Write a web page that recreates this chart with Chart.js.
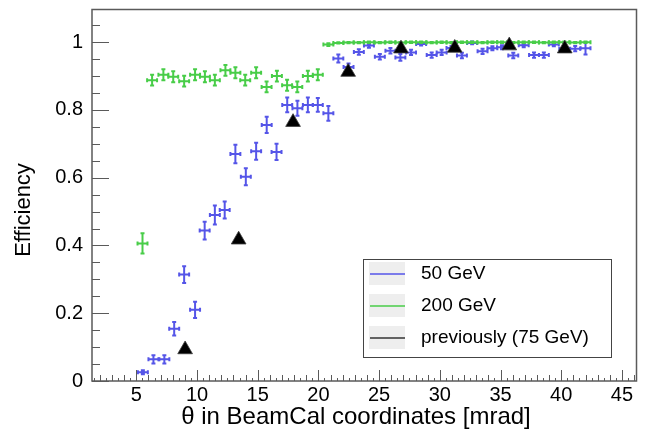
<!DOCTYPE html>
<html>
<head>
<meta charset="utf-8">
<script src="https://cdn.jsdelivr.net/npm/chart.js@4.4.1/dist/chart.umd.min.js"></script>
<style>
  html, body { margin: 0; padding: 0; background: #fff; }
  #wrap { width: 646px; height: 441px; }
</style>
</head>
<body>
<div id="wrap"><canvas id="eff"></canvas></div>
<script>
// 50 GeV : theta [mrad], efficiency, vertical error
const blueTheta = [5.54, 6.41, 7.31, 8.12, 8.94, 9.84, 10.63, 11.47, 12.28, 13.16, 14.02, 14.87, 15.74, 16.55,
  17.43, 18.27, 19.13, 19.95, 20.82, 21.64, 22.48, 23.33, 24.16, 25.06, 25.93, 26.75, 27.63, 28.46, 29.33,
  30.15, 30.96, 31.82, 32.66, 33.52, 34.33, 35.12, 36.05, 36.91, 37.76, 38.57, 39.39, 40.25, 41.15, 42.0];
const blueEff = [0.026, 0.064, 0.064, 0.154, 0.314, 0.210, 0.444, 0.490, 0.505, 0.670, 0.603, 0.678, 0.756, 0.676,
  0.815, 0.805, 0.815, 0.815, 0.790, 0.952, 0.927, 0.971, 0.990, 0.957, 0.975, 0.955, 0.970, 0.995, 0.962,
  0.970, 0.983, 0.961, 0.998, 0.973, 0.982, 0.985, 0.961, 0.991, 0.962, 0.962, 0.993, 0.980, 0.981, 0.982];
const blueErr = [0.006, 0.012, 0.012, 0.02, 0.025, 0.024, 0.026, 0.028, 0.025, 0.027, 0.025, 0.025, 0.024, 0.024,
  0.022, 0.022, 0.022, 0.02, 0.022, 0.012, 0.01, 0.008, 0.006, 0.008, 0.008, 0.01, 0.008, 0.005, 0.008,
  0.008, 0.006, 0.008, 0.004, 0.008, 0.006, 0.006, 0.008, 0.006, 0.008, 0.008, 0.005, 0.008, 0.008, 0.018];

// 200 GeV
const greenTheta = [5.51, 6.30, 7.23, 8.04, 8.94, 9.84, 10.65, 11.47, 12.34, 13.16, 13.97, 14.87, 15.73, 16.58,
  17.42, 18.26, 19.13, 19.95, 20.82, 21.64, 22.48, 23.33, 24.16, 25.06, 25.93, 26.75, 27.63, 28.46, 29.33,
  30.15, 30.96, 31.82, 32.66, 33.52, 34.33, 35.12, 36.05, 36.91, 37.76, 38.57, 39.39, 40.25, 41.15, 42.0];
const greenEff = [0.406, 0.888, 0.904, 0.898, 0.885, 0.904, 0.898, 0.888, 0.917, 0.910, 0.888, 0.910, 0.868, 0.900,
  0.873, 0.868, 0.900, 0.904, 0.993, 0.998, 0.999, 0.999, 1.0, 0.999, 1.0, 0.999, 1.0, 1.0, 0.999,
  1.0, 0.999, 1.0, 1.0, 0.999, 1.0, 1.0, 0.999, 1.0, 1.0, 0.999, 1.0, 1.0, 0.999, 1.0];
const greenErr = [0.03, 0.016, 0.016, 0.016, 0.016, 0.016, 0.016, 0.016, 0.016, 0.016, 0.016, 0.016, 0.016, 0.016,
  0.016, 0.016, 0.016, 0.016, 0.004, 0.002, 0.002, 0.002, 0.002, 0.002, 0.002, 0.002, 0.002, 0.002, 0.002,
  0.002, 0.002, 0.002, 0.002, 0.002, 0.002, 0.002, 0.002, 0.002, 0.002, 0.002, 0.002, 0.002, 0.002, 0.002];

// previously (75 GeV)
const prevTheta = [9.02, 13.43, 17.91, 22.45, 26.8, 31.23, 35.72, 40.29];
const prevEff = [0.093, 0.417, 0.764, 0.912, 0.981, 0.983, 0.990, 0.981];

const binHalfWidth = 0.41;
const seriesLabels = ['50 GeV', '200 GeV', 'previously (75 GeV)'];

const blue = 'rgb(85, 85, 232)';
const green = 'rgb(72, 205, 72)';
const frame = '#5a5a5a';
const fontFamily = "'Liberation Sans', Arial, Helvetica, sans-serif";

const toPoints = (xs, ys) => xs.map((v, i) => ({ x: v, y: ys[i] }));

// crosses with small end caps, like ROOT "E1"
const errorBars = {
  id: 'errorBars',
  beforeDatasetsDraw(chart) {
    const { ctx, chartArea: a, scales: { x, y } } = chart;
    ctx.save();
    ctx.beginPath();
    ctx.rect(a.left, a.top, a.width, a.height);
    ctx.clip();
    chart.data.datasets.forEach(ds => {
      if (!ds.errY) return;
      ctx.strokeStyle = ds.borderColor;
      ctx.lineWidth = 2;
      const cap = 2;
      ds.data.forEach((p, k) => {
        const px = x.getPixelForValue(p.x);
        const py = y.getPixelForValue(p.y);
        const xl = x.getPixelForValue(p.x - ds.errX);
        const xr = x.getPixelForValue(p.x + ds.errX);
        const yt = y.getPixelForValue(p.y + ds.errY[k]);
        const yb = y.getPixelForValue(p.y - ds.errY[k]);
        ctx.beginPath();
        ctx.moveTo(xl, py); ctx.lineTo(xr, py);
        ctx.moveTo(xl, py - cap); ctx.lineTo(xl, py + cap);
        ctx.moveTo(xr, py - cap); ctx.lineTo(xr, py + cap);
        if (yb - yt > 1) {
          ctx.moveTo(px, yt); ctx.lineTo(px, yb);
          ctx.moveTo(px - cap, yt); ctx.lineTo(px + cap, yt);
          ctx.moveTo(px - cap, yb); ctx.lineTo(px + cap, yb);
        }
        ctx.stroke();
      });
    });
    ctx.restore();
  }
};

// frame, inward ticks, axis titles and the boxed legend
const rootFrame = {
  id: 'rootFrame',
  afterDraw(chart) {
    const { ctx, chartArea: a, scales: { x, y } } = chart;
    ctx.save();
    ctx.strokeStyle = frame;
    ctx.lineWidth = 1.5;
    ctx.strokeRect(a.left, a.top, a.width, a.height);

    ctx.lineWidth = 1;
    ctx.beginPath();
    for (let v = Math.ceil(x.min * 2) / 2; v <= x.max; v += 0.5) {
      const px = Math.round(x.getPixelForValue(v)) + 0.5;
      const len = v % 5 === 0 ? 11 : (v % 1 === 0 ? 6 : 3);
      ctx.moveTo(px, a.bottom); ctx.lineTo(px, a.bottom - len);
    }
    for (let i = 0; i * 0.05 <= y.max; i++) {
      const py = Math.round(y.getPixelForValue(i * 0.05)) + 0.5;
      const len = i % 4 === 0 ? 17 : 8;
      ctx.moveTo(a.left, py); ctx.lineTo(a.left + len, py);
    }
    ctx.stroke();

    ctx.fillStyle = '#000';
    ctx.font = '24px ' + fontFamily;
    ctx.textAlign = 'center';
    ctx.textBaseline = 'middle';
    ctx.fillText('θ in BeamCal coordinates [mrad]', 356, 417);
    ctx.save();
    ctx.font = '22px ' + fontFamily;
    ctx.translate(24, 210);
    ctx.rotate(-Math.PI / 2);
    ctx.fillText('Efficiency', 0, 0);
    ctx.restore();

    // legend
    const box = { left: 363, top: 259, width: 248, height: 98 };
    ctx.fillStyle = '#fff';
    ctx.fillRect(box.left, box.top, box.width, box.height);
    ctx.strokeStyle = '#444';
    ctx.lineWidth = 1;
    ctx.strokeRect(box.left + 0.5, box.top + 0.5, box.width, box.height);
    const rows = [274, 306, 338];
    chart.data.datasets.forEach((ds, i) => {
      const ry = rows[i];
      ctx.fillStyle = '#eeeeee';
      ctx.fillRect(369, ry - 12, 36, 23);
      ctx.strokeStyle = ds.legendColor;
      ctx.lineWidth = 1.5;
      ctx.beginPath();
      ctx.moveTo(370, ry); ctx.lineTo(405, ry);
      ctx.stroke();
      ctx.fillStyle = '#000';
      ctx.font = '19px ' + fontFamily;
      ctx.textAlign = 'left';
      ctx.fillText(ds.label, 421, ry);
    });
    ctx.restore();
  }
};

new Chart(document.getElementById('eff'), {
  type: 'scatter',
  data: {
    datasets: [
      {
        label: seriesLabels[0],
        data: toPoints(blueTheta, blueEff),
        errY: blueErr,
        errX: binHalfWidth,
        borderColor: blue,
        legendColor: blue,
        pointRadius: 0,
        order: 3
      },
      {
        label: seriesLabels[1],
        data: toPoints(greenTheta, greenEff),
        errY: greenErr,
        errX: binHalfWidth,
        borderColor: green,
        legendColor: green,
        pointRadius: 0,
        order: 2
      },
      {
        label: seriesLabels[2],
        data: toPoints(prevTheta, prevEff),
        legendColor: '#333',
        pointStyle: 'triangle',
        pointRadius: 8.5,
        backgroundColor: '#000',
        borderColor: 'rgba(60,60,60,0.8)',
        borderWidth: 1,
        order: 1
      }
    ]
  },
  options: {
    responsive: true,
    maintainAspectRatio: false,
    animation: false,
    layout: { padding: { top: 7, right: 4, left: 0, bottom: 0 } },
    plugins: {
      legend: { display: false },
      tooltip: { enabled: false }
    },
    scales: {
      x: {
        type: 'linear',
        min: 1.35,
        max: 46.2,
        afterFit: (s) => { s.height = 60; s.paddingLeft = 0; s.paddingRight = 0; },
        grid: { display: false, drawTicks: false },
        border: { display: false },
        ticks: {
          stepSize: 5,
          includeBounds: false,
          padding: 2,
          color: '#000',
          font: { family: fontFamily, size: 20 }
        }
      },
      y: {
        min: 0,
        max: 1.0966,
        afterFit: (s) => { s.width = 92; s.paddingTop = 0; s.paddingBottom = 0; },
        grid: { display: false, drawTicks: false },
        border: { display: false },
        ticks: {
          stepSize: 0.2,
          includeBounds: false,
          padding: 9,
          color: '#000',
          font: { family: fontFamily, size: 20 },
          callback: (v) => String(Number(v.toFixed(2)))
        }
      }
    }
  },
  plugins: [errorBars, rootFrame]
});
</script>
</body>
</html>
